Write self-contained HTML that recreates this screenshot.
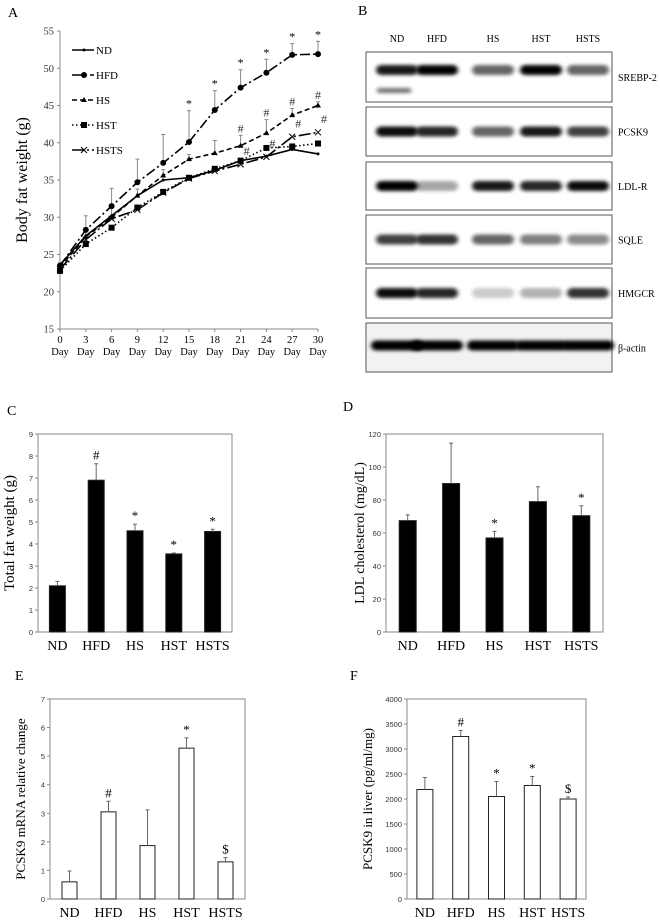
<!DOCTYPE html>
<html><head><meta charset="utf-8"><style>
body{margin:0;background:#fff;font-family:"Liberation Serif",serif;}
svg{display:block}
</style></head><body>
<svg id="fig" width="660" height="921" xmlns="http://www.w3.org/2000/svg" font-family="Liberation Serif, serif">
<text x="8" y="17" font-size="14">A</text>
<text x="358" y="15" font-size="14">B</text>
<text x="7" y="415" font-size="14">C</text>
<text x="343" y="411" font-size="14">D</text>
<text x="15" y="680" font-size="14">E</text>
<text x="350" y="680" font-size="14">F</text>
<g id="gA"></g>
<g id="gB"></g>
<g id="gC"></g>
<g id="gD"></g>
<g id="gE"></g>
<g id="gF"></g>
</svg>
<script>
const NS="http://www.w3.org/2000/svg";
// Panel A data
const days=["0","3","6","9","12","15","18","21","24","27","30"];
const ndVals=[23.6,27.5,30.2,32.9,35.0,35.3,36.3,37.6,38.2,39.1,38.5];
const hfdVals=[23.5,28.3,31.5,34.7,37.3,40.1,44.4,47.4,49.4,51.8,51.9];
const hsVals=[23.3,27.4,30.0,32.9,35.6,37.8,38.6,39.6,41.3,43.7,45.0];
const hstVals=[22.8,26.4,28.6,31.3,33.4,35.3,36.5,37.6,39.3,39.5,39.9];
const hstsVals=[23.0,27.0,29.8,31.0,33.3,35.2,36.2,37.1,38.1,40.8,41.4];
const hfdErr=[0.4,1.9,2.4,3.1,3.8,4.2,2.6,2.4,1.8,1.5,1.7];
const hsErr=[0.3,1.2,1.2,0.9,0.8,0.6,1.7,1.4,1.8,0.9,0.5];
const aTicks=[15,20,25,30,35,40,45,50,55];
// Panels C-F data
const groups=["ND","HFD","HS","HST","HSTS"];
const fatVals=[2.1,6.9,4.6,3.55,4.57];
const fatErr=[0.2,0.75,0.3,0.04,0.1];
const fatMarks=["","#","*","*","*"];
const ldlVals=[67.5,90,57,79,70.5];
const ldlErr=[3.5,24.5,4,9,6];
const ldlMarks=["","","*","","*"];
const mrnaVals=[0.6,3.05,1.87,5.28,1.3];
const mrnaErr=[0.38,0.37,1.25,0.36,0.15];
const mrnaMarks=["","#","","*","$"];
const liverVals=[2190,3250,2050,2270,2000];
const liverErr=[240,120,300,180,40];
const liverMarks=["","#","*","*","$"];

function el(p,t,a){const e=document.createElementNS(NS,t);for(const k in a)e.setAttribute(k,a[k]);p.appendChild(e);return e;}

// ---- Panel A ----
(function(){
const g=document.getElementById('gA');
const x0=60,x1=318,yTop=31,yBot=329,vmin=15,vmax=55;
const X=i=>x0+(x1-x0)*i/(days.length-1);
const Y=v=>yBot-(v-vmin)/(vmax-vmin)*(yBot-yTop);
let a=el(g,'line',{x1:x0,y1:yTop,x2:x0,y2:yBot,stroke:'#888','stroke-width':1});

a=el(g,'line',{x1:x0,y1:yBot,x2:x1,y2:yBot,stroke:'#888','stroke-width':1});

aTicks.forEach(v=>{el(g,'line',{x1:x0-3,y1:Y(v),x2:x0,y2:Y(v),stroke:'#888'});
 const t=el(g,'text',{x:x0-6,y:Y(v)+3.5,'font-size':10.5,'text-anchor':'end',fill:'#333'});t.textContent=v;
 });
days.forEach((d,i)=>{el(g,'line',{x1:X(i),y1:yBot,x2:X(i),y2:yBot+3,stroke:'#888'});
 const t=el(g,'text',{x:X(i),y:yBot+14,'font-size':10.5,'text-anchor':'middle'});t.textContent=d;
 
 const t2=el(g,'text',{x:X(i),y:yBot+26,'font-size':10.5,'text-anchor':'middle'});t2.textContent='Day';
 });
const yl=el(g,'text',{transform:'translate(27,180) rotate(-90)','font-size':16,'text-anchor':'middle'});yl.textContent='Body fat weight (g)';

[[hfdVals,hfdErr],[hsVals,hsErr]].forEach(([vals,err])=>vals.forEach((v,i)=>{
 const e=el(g,'path',{d:`M${X(i)} ${Y(v)}V${Y(v+err[i])}M${X(i)-2} ${Y(v+err[i])}H${X(i)+2}`,stroke:'#888','stroke-width':1,fill:'none'});
 }));
const series=[
 {n:'ND',v:ndVals,dash:'',m:'dot'},
 {n:'HFD',v:hfdVals,dash:'10 3 2 3',m:'circle'},
 {n:'HS',v:hsVals,dash:'5 3',m:'tri'},
 {n:'HST',v:hstVals,dash:'1.5 2.5',m:'sq'},
 {n:'HSTS',v:hstsVals,dash:'12 3 2 3',m:'x'}];
function marker(p,m,x,y){
 if(m==='circle')return el(p,'circle',{cx:x,cy:y,r:3,fill:'#000'});
 if(m==='tri')return el(p,'path',{d:`M${x} ${y-3}L${x+3} ${y+2}L${x-3} ${y+2}Z`,fill:'#000'});
 if(m==='sq')return el(p,'rect',{x:x-3,y:y-3,width:6,height:6,fill:'#000'});
 if(m==='x')return el(p,'path',{d:`M${x-3} ${y-3}L${x+3} ${y+3}M${x-3} ${y+3}L${x+3} ${y-3}`,stroke:'#000','stroke-width':1});
 return el(p,'circle',{cx:x,cy:y,r:1.5,fill:'#000'});}
series.forEach(s=>{
 const sg=el(g,'g',{});
 const pts=s.v.map((v,i)=>X(i)+','+Y(v)).join(' ');
 el(sg,'polyline',{points:pts,fill:'none',stroke:'#000','stroke-width':1.6,'stroke-dasharray':s.dash});
 s.v.forEach((v,i)=>{const mk=marker(sg,s.m,X(i),Y(v));});
});
for(let i=5;i<11;i++){const t=el(g,'text',{x:X(i),y:Y(hfdVals[i]+hfdErr[i])-3,'font-size':12,'text-anchor':'middle'});t.textContent='*';
 }
for(let i=7;i<11;i++){const t=el(g,'text',{x:X(i),y:Y(hsVals[i]+hsErr[i])-3,'font-size':12,'text-anchor':'middle',fill:'#333'});t.textContent='#';
 
 const t2=el(g,'text',{x:X(i)+6,y:Y(hstsVals[i]+1)-2,'font-size':12,'text-anchor':'middle',fill:'#333'});t2.textContent='#';
 }
series.forEach((s,k)=>{const ly=50+k*25;
 const lg=el(g,'g',{});
 el(lg,'line',{x1:72,y1:ly,x2:94,y2:ly,stroke:'#000','stroke-width':1.6,'stroke-dasharray':s.dash});
 marker(lg,s.m,84,ly);
 const t=el(lg,'text',{x:96,y:ly+4,'font-size':11});t.textContent=s.n;});
})();

// ---- Panel B (blot) ----
(function(){
const g=document.getElementById('gB');
const defs=el(g,'defs',{});const f=el(defs,'filter',{id:'blur',x:'-20%',y:'-100%',width:'140%',height:'300%'});el(f,'feGaussianBlur',{stdDeviation:'2.2 1.8'});
const lanes=[397,437,493,541,588];
groups.forEach((n,i)=>{const t=el(g,'text',{x:lanes[i],y:42,'font-size':10,'text-anchor':'middle'});t.textContent=n;
 });
const boxes=[[52,102,'SREBP-2'],[107,156,'PCSK9'],[162,210,'LDL-R'],[215,264,'SQLE'],[268,318,'HMGCR'],[323,372,'β-actin']];
const intens=[[0.9,1,0.6,1,0.6],[0.95,0.85,0.6,0.9,0.75],[1,0.35,0.9,0.85,0.95],[0.75,0.8,0.6,0.5,0.45],[0.95,0.85,0.2,0.3,0.8],[1,1,1,1,1]];
boxes.forEach((b,r)=>{
 const bg=el(g,'g',{});
 el(bg,'rect',{x:366,y:b[0],width:246,height:b[1]-b[0],fill:r==5?'#f2f2f2':'#fff',stroke:'#555','stroke-width':1});
 const cy=r==0?b[0]+18:(b[0]+b[1])/2+(r==5?-2:0);
 intens[r].forEach((v,i)=>{const w=r==5?52:42;
  el(bg,'rect',{x:lanes[i]-w/2,y:cy-5,width:w,height:10,rx:5,fill:'#000',opacity:v,filter:'url(#blur)'});});
 if(r==0)el(bg,'rect',{x:377,y:b[0]+36,width:34,height:5,rx:2,fill:'#000',opacity:0.55,filter:'url(#blur)'});
 const t=el(bg,'text',{x:618,y:(b[0]+b[1])/2+4,'font-size':10});t.textContent=b[2];
});
})();

// ---- Bar charts ----
function barChart(id,o){
 const g=document.getElementById(id);
 const Y=v=>o.yb-(v/o.max)*(o.yb-o.yt);
 el(g,'rect',{x:o.x0,y:o.yt,width:o.x1-o.x0,height:o.yb-o.yt,fill:'none',stroke:'#888','stroke-width':1});
 o.ticks.forEach(v=>{el(g,'line',{x1:o.x0-3,y1:Y(v),x2:o.x0,y2:Y(v),stroke:'#888'});
  const t=el(g,'text',{x:o.x0-5,y:Y(v)+3,'font-size':7.5,'text-anchor':'end',fill:'#333','font-family':'Liberation Sans, sans-serif'});t.textContent=v;
  });
 const step=(o.x1-o.x0)/groups.length;
 groups.forEach((n,i)=>{const cx=o.x0+step*(i+0.5);const v=o.vals[i],e=o.err[i];
  const r=el(g,'rect',{x:cx-o.bw/2,y:Y(v),width:o.bw,height:o.yb-Y(v),fill:o.fill,stroke:'#222','stroke-width':1});
  
  const eb=el(g,'path',{d:`M${cx} ${Y(v)}V${Y(v+e)}M${cx-2} ${Y(v+e)}H${cx+2}`,stroke:'#666',fill:'none'});
  
  if(o.marks[i]){const t=el(g,'text',{x:cx,y:Y(v+e)-4,'font-size':13,'text-anchor':'middle'});t.textContent=o.marks[i];
   }
  const t=el(g,'text',{x:cx,y:o.yb+18,'font-size':14,'text-anchor':'middle'});t.textContent=n;
  });
 const yl=el(g,'text',{transform:`translate(${o.lx},${(o.yt+o.yb)/2}) rotate(-90)`,'font-size':o.lfs,'text-anchor':'middle'});yl.textContent=o.label;
 
}
barChart('gC',{x0:38,x1:232,yt:434,yb:632,max:9,ticks:[0,1,2,3,4,5,6,7,8,9],vals:fatVals,err:fatErr,marks:fatMarks,bw:16,fill:'#000',label:'Total fat weight (g)',lx:14,lfs:15});
barChart('gD',{x0:386,x1:603,yt:434,yb:632,max:120,ticks:[0,20,40,60,80,100,120],vals:ldlVals,err:ldlErr,marks:ldlMarks,bw:17,fill:'#000',label:'LDL cholesterol (mg/dL)',lx:364,lfs:14});
barChart('gE',{x0:50,x1:245,yt:699,yb:899,max:7,ticks:[0,1,2,3,4,5,6,7],vals:mrnaVals,err:mrnaErr,marks:mrnaMarks,bw:15,fill:'#fff',label:'PCSK9 mRNA relative change',lx:25,lfs:13});
barChart('gF',{x0:407,x1:586,yt:699,yb:899,max:4000,ticks:[0,500,1000,1500,2000,2500,3000,3500,4000],vals:liverVals,err:liverErr,marks:liverMarks,bw:16,fill:'#fff',label:'PCSK9 in liver (pg/ml/mg)',lx:372,lfs:13});
</script>
</body></html>
